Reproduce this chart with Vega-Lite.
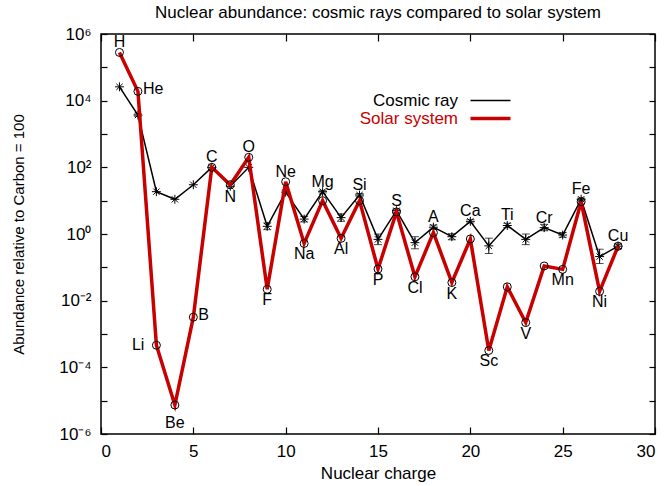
{
  "$schema": "https://vega.github.io/schema/vega-lite/v6.json",
  "width": 554,
  "height": 400,
  "autosize": {"type": "none"},
  "padding": {"left": 101, "top": 34, "right": 9, "bottom": 52},
  "background": "white",
  "config": {
    "font": "Liberation Sans",
    "view": {"stroke": "black", "strokeWidth": 1.5},
    "axis": {"domain": false, "grid": false, "tickColor": "black", "tickWidth": 1.2, "labelColor": "black", "titleColor": "black", "labelFont": "Liberation Sans", "titleFont": "Liberation Sans", "titleFontWeight": "normal"}
  },
  "title": {"text": "Nuclear abundance: cosmic rays compared to solar system", "fontSize": 17, "fontWeight": "normal", "font": "Liberation Sans", "color": "black", "offset": 3, "anchor": "middle"},
  "datasets": {
    "cosmic": [
      {"Z": 1, "el": "H", "value": 26000},
      {"Z": 2, "el": "He", "value": 3700, "lo": 3400, "hi": 4000},
      {"Z": 3, "el": "Li", "value": 18.6},
      {"Z": 4, "el": "Be", "value": 11},
      {"Z": 5, "el": "B", "value": 30},
      {"Z": 6, "el": "C", "value": 100},
      {"Z": 7, "el": "N", "value": 27},
      {"Z": 8, "el": "O", "value": 100},
      {"Z": 9, "el": "F", "value": 1.7, "lo": 1.35, "hi": 2.15},
      {"Z": 10, "el": "Ne", "value": 18, "lo": 16, "hi": 20},
      {"Z": 11, "el": "Na", "value": 2.8, "lo": 2.3, "hi": 3.4},
      {"Z": 12, "el": "Mg", "value": 18.6, "lo": 17, "hi": 20.4},
      {"Z": 13, "el": "Al", "value": 3.1, "lo": 2.4, "hi": 4.0},
      {"Z": 14, "el": "Si", "value": 14.8, "lo": 13.5, "hi": 16.3},
      {"Z": 15, "el": "P", "value": 0.69, "lo": 0.48, "hi": 1.0},
      {"Z": 16, "el": "S", "value": 5.0, "lo": 4.5, "hi": 5.6},
      {"Z": 17, "el": "Cl", "value": 0.55, "lo": 0.36, "hi": 0.83},
      {"Z": 18, "el": "A", "value": 1.6, "lo": 1.4, "hi": 1.85},
      {"Z": 19, "el": "K", "value": 0.83, "lo": 0.67, "hi": 1.02},
      {"Z": 20, "el": "Ca", "value": 2.4, "lo": 2.15, "hi": 2.7},
      {"Z": 21, "el": "Sc", "value": 0.44, "lo": 0.26, "hi": 0.75},
      {"Z": 22, "el": "Ti", "value": 1.8, "lo": 1.55, "hi": 2.1},
      {"Z": 23, "el": "V", "value": 0.69, "lo": 0.48, "hi": 1.0},
      {"Z": 24, "el": "Cr", "value": 1.55, "lo": 1.25, "hi": 1.95},
      {"Z": 25, "el": "Mn", "value": 0.93, "lo": 0.8, "hi": 1.1},
      {"Z": 26, "el": "Fe", "value": 11, "lo": 10, "hi": 12},
      {"Z": 27, "el": "Ni", "value": 0.21, "lo": 0.13, "hi": 0.35},
      {"Z": 28, "el": "Cu", "value": 0.43, "lo": 0.37, "hi": 0.5}
    ],
    "solar": [
      {"Z": 1, "el": "H", "value": 280000},
      {"Z": 2, "el": "He", "value": 19000},
      {"Z": 3, "el": "Li", "value": 0.00046},
      {"Z": 4, "el": "Be", "value": 0.0000074},
      {"Z": 5, "el": "B", "value": 0.0032},
      {"Z": 6, "el": "C", "value": 100},
      {"Z": 7, "el": "N", "value": 30},
      {"Z": 8, "el": "O", "value": 200},
      {"Z": 9, "el": "F", "value": 0.022},
      {"Z": 10, "el": "Ne", "value": 37},
      {"Z": 11, "el": "Na", "value": 0.52},
      {"Z": 12, "el": "Mg", "value": 10},
      {"Z": 13, "el": "Al", "value": 0.74},
      {"Z": 14, "el": "Si", "value": 10},
      {"Z": 15, "el": "P", "value": 0.089},
      {"Z": 16, "el": "S", "value": 4.6},
      {"Z": 17, "el": "Cl", "value": 0.052},
      {"Z": 18, "el": "A", "value": 1.1},
      {"Z": 19, "el": "K", "value": 0.035},
      {"Z": 20, "el": "Ca", "value": 0.71},
      {"Z": 21, "el": "Sc", "value": 0.00032},
      {"Z": 22, "el": "Ti", "value": 0.026},
      {"Z": 23, "el": "V", "value": 0.0022},
      {"Z": 24, "el": "Cr", "value": 0.11},
      {"Z": 25, "el": "Mn", "value": 0.087},
      {"Z": 26, "el": "Fe", "value": 9.3},
      {"Z": 27, "el": "Ni", "value": 0.019},
      {"Z": 28, "el": "Cu", "value": 0.43}
    ],
    "labels": [
      {"Z": 1, "el": "H", "value": 280000, "pos": "above"},
      {"Z": 2, "el": "He", "value": 19000, "pos": "right"},
      {"Z": 3, "el": "Li", "value": 0.00046, "pos": "left"},
      {"Z": 4, "el": "Be", "value": 0.0000074, "pos": "far below"},
      {"Z": 5, "el": "B", "value": 0.0032, "pos": "right"},
      {"Z": 6, "el": "C", "value": 100, "pos": "above"},
      {"Z": 7, "el": "N", "value": 27, "pos": "below"},
      {"Z": 8, "el": "O", "value": 200, "pos": "above"},
      {"Z": 9, "el": "F", "value": 0.022, "pos": "below"},
      {"Z": 10, "el": "Ne", "value": 37, "pos": "above"},
      {"Z": 11, "el": "Na", "value": 0.52, "pos": "below"},
      {"Z": 12, "el": "Mg", "value": 18.6, "pos": "above"},
      {"Z": 13, "el": "Al", "value": 0.74, "pos": "below"},
      {"Z": 14, "el": "Si", "value": 14.8, "pos": "above"},
      {"Z": 15, "el": "P", "value": 0.089, "pos": "below"},
      {"Z": 16, "el": "S", "value": 5.0, "pos": "above"},
      {"Z": 17, "el": "Cl", "value": 0.052, "pos": "below"},
      {"Z": 18, "el": "A", "value": 1.6, "pos": "above"},
      {"Z": 19, "el": "K", "value": 0.035, "pos": "below"},
      {"Z": 20, "el": "Ca", "value": 2.4, "pos": "above"},
      {"Z": 21, "el": "Sc", "value": 0.00032, "pos": "below"},
      {"Z": 22, "el": "Ti", "value": 1.8, "pos": "above"},
      {"Z": 23, "el": "V", "value": 0.0022, "pos": "below"},
      {"Z": 24, "el": "Cr", "value": 1.55, "pos": "above"},
      {"Z": 25, "el": "Mn", "value": 0.087, "pos": "below"},
      {"Z": 26, "el": "Fe", "value": 11, "pos": "above"},
      {"Z": 27, "el": "Ni", "value": 0.019, "pos": "below"},
      {"Z": 28, "el": "Cu", "value": 0.43, "pos": "above"}
    ]
  },
  "layer": [
    {
      "data": {"name": "cosmic"},
      "mark": {"type": "line", "strokeWidth": 1.5, "strokeJoin": "miter"},
      "encoding": {
        "x": {"field": "Z", "type": "quantitative", "scale": {"domain": [0, 30], "nice": false, "zero": false},
          "axis": {"orient": "bottom", "values": [0, 5, 10, 15, 20, 25, 30], "tickSize": -7, "labelFontSize": 17, "labelPadding": 16, "title": "Nuclear charge", "titleFontSize": 17, "titlePadding": 6}},
        "y": {"field": "value", "type": "quantitative", "scale": {"type": "log", "domain": [0.000001, 1000000], "nice": false},
          "axis": {"orient": "left", "values": [0.000001, 0.00001, 0.0001, 0.001, 0.01, 0.1, 1, 10, 100, 1000, 10000, 100000, 1000000],
            "labelExpr": "['10⁻⁶','','10⁻⁴','','10⁻²','','10⁰','','10²','','10⁴','','10⁶'][round(log(datum.value)/LN10)+6]",
            "tickSize": -6, "labelFontSize": 17, "labelPadding": 16, "title": "Abundance relative to Carbon = 100", "titleFontSize": 15, "titlePadding": 32}},
        "color": {"datum": "Cosmic ray", "type": "nominal", "scale": {"domain": ["Cosmic ray", "Solar system"], "range": ["black", "#c80000"]},
          "legend": {"orient": "none", "legendX": 381, "legendY": 58, "title": null, "symbolType": "stroke", "symbolSize": 1600, "symbolStrokeWidth": 2, "labelFontSize": 17, "labelAlign": "right", "labelOffset": -41, "rowPadding": 0, "padding": 0, "labelLimit": 300,
            "encode": {"symbols": {"update": {"strokeWidth": {"signal": "datum.value === 'Solar system' ? 3.5 : 1.5"}}}, "labels": {"update": {"fill": {"signal": "datum.value === 'Solar system' ? '#c80000' : 'black'"}}}}}}
      }
    },
    {
      "data": {"name": "cosmic"},
      "mark": {"type": "errorbar", "ticks": {"size": 8, "color": "black", "thickness": 1}, "rule": {"color": "black", "strokeWidth": 1}},
      "encoding": {
        "x": {"field": "Z", "type": "quantitative", "axis": null},
        "y": {"field": "lo", "type": "quantitative", "scale": {"type": "log", "domain": [0.000001, 1000000], "nice": false}, "axis": null},
        "y2": {"field": "hi"}
      }
    },
    {
      "data": {"name": "cosmic"},
      "mark": {"type": "point", "shape": "M-1,0L1,0M0,-1L0,1M-0.7,-0.7L0.7,0.7M-0.7,0.7L0.7,-0.7", "size": 80, "filled": false, "stroke": "black", "strokeWidth": 1, "opacity": 1},
      "encoding": {
        "x": {"field": "Z", "type": "quantitative", "axis": null},
        "y": {"field": "value", "type": "quantitative", "axis": null}
      }
    },
    {
      "data": {"name": "solar"},
      "mark": {"type": "line", "strokeWidth": 3.5, "strokeJoin": "miter"},
      "encoding": {
        "x": {"field": "Z", "type": "quantitative", "axis": null},
        "y": {"field": "value", "type": "quantitative", "axis": null},
        "color": {"datum": "Solar system", "type": "nominal"}
      }
    },
    {
      "data": {"name": "solar"},
      "mark": {"type": "point", "shape": "circle", "size": 64, "filled": false, "stroke": "black", "strokeWidth": 1, "opacity": 1},
      "encoding": {
        "x": {"field": "Z", "type": "quantitative", "axis": {"orient": "top", "values": [0, 5, 10, 15, 20, 25, 30], "tickSize": -7, "labels": false, "title": null}},
        "y": {"field": "value", "type": "quantitative", "axis": {"orient": "right", "values": [0.000001, 0.00001, 0.0001, 0.001, 0.01, 0.1, 1, 10, 100, 1000, 10000, 100000, 1000000], "tickSize": -6, "labels": false, "title": null}}
      }
    },
    {
      "data": {"name": "labels"},
      "transform": [{"filter": "datum.pos === 'above'"}],
      "mark": {"type": "text", "fontSize": 16, "align": "center", "baseline": "alphabetic", "dy": -5, "color": "black"},
      "encoding": {
        "x": {"field": "Z", "type": "quantitative", "axis": null},
        "y": {"field": "value", "type": "quantitative", "axis": null},
        "text": {"field": "el"}
      }
    },
    {
      "data": {"name": "labels"},
      "transform": [{"filter": "datum.pos === 'below'"}],
      "mark": {"type": "text", "fontSize": 16, "align": "center", "baseline": "alphabetic", "dy": 16, "color": "black"},
      "encoding": {
        "x": {"field": "Z", "type": "quantitative", "axis": null},
        "y": {"field": "value", "type": "quantitative", "axis": null},
        "text": {"field": "el"}
      }
    },
    {
      "data": {"name": "labels"},
      "transform": [{"filter": "datum.pos === 'far below'"}],
      "mark": {"type": "text", "fontSize": 16, "align": "center", "baseline": "alphabetic", "dy": 23, "color": "black"},
      "encoding": {
        "x": {"field": "Z", "type": "quantitative", "axis": null},
        "y": {"field": "value", "type": "quantitative", "axis": null},
        "text": {"field": "el"}
      }
    },
    {
      "data": {"name": "labels"},
      "transform": [{"filter": "datum.pos === 'right'"}],
      "mark": {"type": "text", "fontSize": 16, "align": "left", "baseline": "middle", "dx": 5, "dy": -2, "color": "black"},
      "encoding": {
        "x": {"field": "Z", "type": "quantitative", "axis": null},
        "y": {"field": "value", "type": "quantitative", "axis": null},
        "text": {"field": "el"}
      }
    },
    {
      "data": {"name": "labels"},
      "transform": [{"filter": "datum.pos === 'left'"}],
      "mark": {"type": "text", "fontSize": 16, "align": "right", "baseline": "middle", "dx": -12, "color": "black"},
      "encoding": {
        "x": {"field": "Z", "type": "quantitative", "axis": null},
        "y": {"field": "value", "type": "quantitative", "axis": null},
        "text": {"field": "el"}
      }
    }
  ],
  "resolve": {"axis": {"x": "independent", "y": "independent"}}
}
